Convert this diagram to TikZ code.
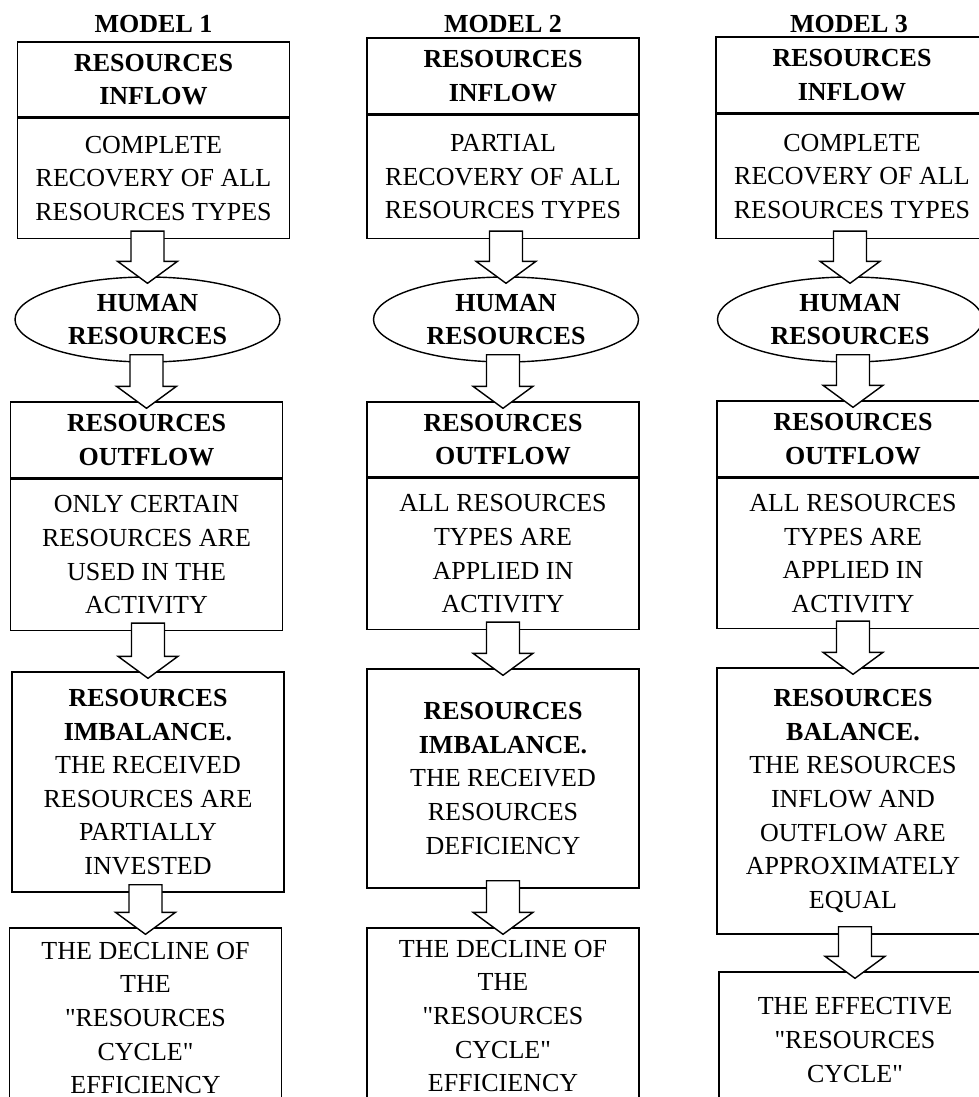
\documentclass[tikz,border=0pt]{standalone}
\usepackage{fontspec}
\setmainfont{Liberation Serif}
\usetikzlibrary{positioning,calc,shapes.geometric}

\tikzset{
  box/.style={draw,thick,minimum width=5.44cm,inner sep=0pt,align=center,
    font=\fontsize{14.8}{19.1}\selectfont},
  human/.style={draw,thick,ellipse,minimum width=5.3cm,minimum height=1.7cm,
    inner sep=0pt,align=center,font=\fontsize{14.8}{19.1}\selectfont\bfseries},
  modeltitle/.style={inner sep=0pt,font=\fontsize{14.8}{19.1}\selectfont\bfseries}
}

% hollow block arrow from one node down to the next
\newcommand{\flowarrow}[2]{%
  \coordinate (tip) at ($(#2.north)+(0,-0.14)$);
  \coordinate (tail) at ($(#1.south -| tip)+(0,0.16)$);
  \draw[thick,fill=white] ($(tail)+(-0.33,0)$) -- ($(tip)+(-0.33,0.44)$)
    -- ($(tip)+(-0.6,0.44)$) -- (tip) -- ($(tip)+(0.6,0.44)$)
    -- ($(tip)+(0.33,0.44)$) -- ($(tail)+(0.33,0)$) -- cycle;
}

\begin{document}
\begin{tikzpicture}
    \useasboundingbox (0,0) rectangle (19.58,-21.94);

    % model 1
    \node[modeltitle] (m1) at (3.07,-0.48) {MODEL 1};
    \node[box,minimum height=1.5cm] (in1) at (3.07,-1.59) {\textbf{RESOURCES}\\\textbf{INFLOW}};
    \node[box,minimum height=2.4cm,below=0pt of in1] (rec1) {COMPLETE\\RECOVERY OF ALL\\RESOURCES TYPES};
    \node[human] (hr1) at (2.95,-6.39) {HUMAN\\RESOURCES};
    \node[box,minimum height=1.52cm] (out1) at (2.93,-8.80) {\textbf{RESOURCES}\\\textbf{OUTFLOW}};
    \node[box,minimum height=3.02cm,below=0pt of out1] (use1) {ONLY CERTAIN\\RESOURCES ARE\\USED IN THE\\ACTIVITY};
    \node[box,minimum height=4.4cm] (imb1) at (2.96,-15.64) {\textbf{RESOURCES}\\\textbf{IMBALANCE.}\\THE RECEIVED\\RESOURCES ARE\\PARTIALLY\\INVESTED};
    \node[box,minimum height=3.6cm] (dec1) at (2.91,-20.36) {THE DECLINE OF\\THE\\\textquotedbl RESOURCES\\CYCLE\textquotedbl\\EFFICIENCY};

    % model 2
    \node[modeltitle] (m2) at (10.06,-0.48) {MODEL 2};
    \node[box,minimum height=1.52cm] (in2) at (10.06,-1.52) {\textbf{RESOURCES}\\\textbf{INFLOW}};
    \node[box,minimum height=2.46cm,below=0pt of in2] (rec2) {PARTIAL\\RECOVERY OF ALL\\RESOURCES TYPES};
    \node[human] (hr2) at (10.12,-6.39) {HUMAN\\RESOURCES};
    \node[box,minimum height=1.5cm] (out2) at (10.06,-8.79) {\textbf{RESOURCES}\\\textbf{OUTFLOW}};
    \node[box,minimum height=3.02cm,below=0pt of out2] (use2) {ALL RESOURCES\\TYPES ARE\\APPLIED IN\\ACTIVITY};
    \node[box,minimum height=4.38cm] (imb2) at (10.06,-15.57) {\textbf{RESOURCES}\\\textbf{IMBALANCE.}\\THE RECEIVED\\RESOURCES\\DEFICIENCY};
    \node[box,minimum height=3.52cm] (dec2) at (10.06,-20.32) {THE DECLINE OF\\THE\\\textquotedbl RESOURCES\\CYCLE\textquotedbl\\EFFICIENCY};

    % model 3
    \node[modeltitle] (m3) at (16.98,-0.48) {MODEL 3};
    \node[box,minimum height=1.52cm] (in3) at (17.04,-1.50) {\textbf{RESOURCES}\\\textbf{INFLOW}};
    \node[box,minimum height=2.48cm,below=0pt of in3] (rec3) {COMPLETE\\RECOVERY OF ALL\\RESOURCES TYPES};
    \node[human] (hr3) at (17.0,-6.39) {HUMAN\\RESOURCES};
    \node[box,minimum height=1.52cm] (out3) at (17.06,-8.78) {\textbf{RESOURCES}\\\textbf{OUTFLOW}};
    \node[box,minimum height=3.0cm,below=0pt of out3] (use3) {ALL RESOURCES\\TYPES ARE\\APPLIED IN\\ACTIVITY};
    \node[box,minimum height=5.32cm] (bal3) at (17.06,-16.02) {\textbf{RESOURCES}\\\textbf{BALANCE.}\\THE RESOURCES\\INFLOW AND\\OUTFLOW ARE\\APPROXIMATELY\\EQUAL};
    \node[box,minimum height=2.72cm] (eff3) at (17.1,-20.80) {THE EFFECTIVE\\\textquotedbl RESOURCES\\CYCLE\textquotedbl};

    % arrows
    \flowarrow{rec1}{hr1}
    \flowarrow{hr1}{out1}
    \flowarrow{use1}{imb1}
    \flowarrow{imb1}{dec1}

    \flowarrow{rec2}{hr2}
    \flowarrow{hr2}{out2}
    \flowarrow{use2}{imb2}
    \flowarrow{imb2}{dec2}

    \flowarrow{rec3}{hr3}
    \flowarrow{hr3}{out3}
    \flowarrow{use3}{bal3}
    \flowarrow{bal3}{eff3}

\end{tikzpicture}
\end{document}
